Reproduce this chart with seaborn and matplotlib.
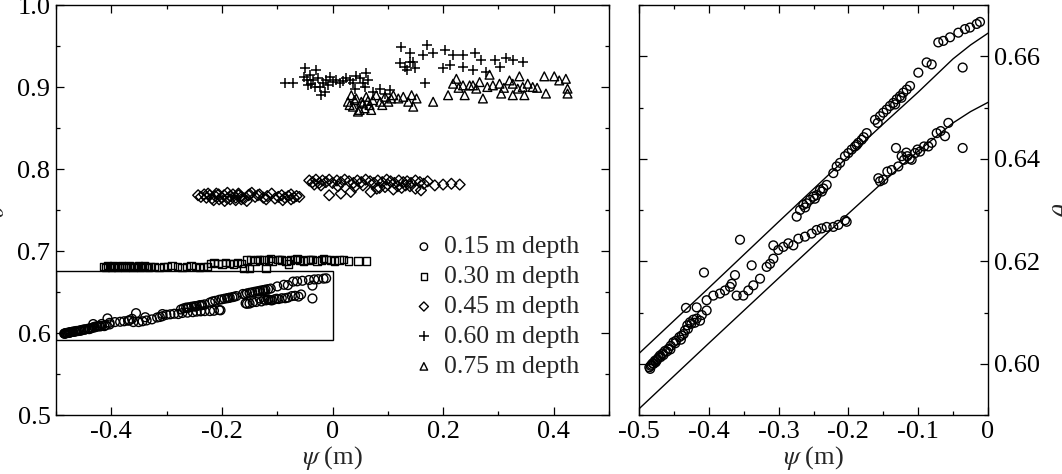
import matplotlib
matplotlib.use("Agg")
import matplotlib.pyplot as plt
from matplotlib.patches import Rectangle
from matplotlib.ticker import MultipleLocator
import seaborn as sns

# 0.15 m depth (same points in both panels)
d15_x = [-0.4852, -0.4833, -0.4804, -0.4771, -0.4737, -0.4699, -0.4661, -0.4628, -0.4580, -0.4546,
         -0.4508, -0.4470, -0.4422, -0.4389, -0.4341, -0.4308, -0.4269, -0.4222, -0.4174, -0.4126,
         -0.4327, -0.4174, -0.4031, -0.4031, -0.4069, -0.3935, -0.3840, -0.3768, -0.3696, -0.3672,
         -0.3625, -0.3553, -0.3386, -0.4820, -0.4760, -0.4720, -0.4650, -0.4550, -0.4400, -0.4300,
         -0.4250, -0.4100, -0.4840, -0.4790, -0.4745, -0.4690, -0.4600, -0.4480, -0.4360, -0.4200,
         -0.2741, -0.2693, -0.2646, -0.2598, -0.2550, -0.2502, -0.2455, -0.2407, -0.2359, -0.2311,
         -0.2216, -0.2168, -0.2120, -0.2049, -0.2001, -0.1953, -0.1905, -0.1858, -0.1810, -0.1738,
         -0.1619, -0.1547, -0.1500, -0.1452, -0.1404, -0.1356, -0.1309, -0.1261, -0.1213, -0.1165,
         -0.1117, -0.0998, -0.0879, -0.0807, -0.0712, -0.0640, -0.0544, -0.0425, -0.0330, -0.0258,
         -0.0162, -0.0115, -0.2620, -0.2480, -0.2380, -0.1880, -0.1780, -0.1580, -0.1330, -0.1240,
         -0.3601, -0.3505, -0.3434, -0.3362, -0.3266, -0.3171, -0.3123, -0.3075, -0.3075, -0.3004,
         -0.2932, -0.2861, -0.2789, -0.2717, -0.2622, -0.2526, -0.2455, -0.2383, -0.2311, -0.2216,
         -0.2144, -0.2049, -0.2025,
         -0.1571, -0.1547, -0.1500, -0.1442, -0.1380, -0.1318, -0.1285, -0.1237, -0.1203, -0.1156,
         -0.1094, -0.1046, -0.0974, -0.0917, -0.0855, -0.0807, -0.0735, -0.0678, -0.0616, -0.0568,
         -0.0363, -0.0363, -0.1170, -0.1120, -0.1010]
d15_y = [0.5993, 0.5996, 0.6001, 0.6006, 0.6009, 0.6016, 0.6020, 0.6025, 0.6029, 0.6035,
         0.6042, 0.6045, 0.6052, 0.6055, 0.6065, 0.6075, 0.6081, 0.6086, 0.6088, 0.6084,
         0.6109, 0.6110, 0.6104, 0.6124, 0.6178, 0.6133, 0.6137, 0.6143, 0.6150, 0.6156,
         0.6173, 0.6242, 0.6192, 0.5998, 0.6003, 0.6012, 0.6017, 0.6028, 0.6047, 0.6068,
         0.6078, 0.6095, 0.5990, 0.6000, 0.6007, 0.6013, 0.6024, 0.6040, 0.6058, 0.6080,
         0.6287, 0.6300, 0.6310, 0.6313, 0.6320, 0.6326, 0.6329, 0.6339, 0.6342, 0.6349,
         0.6372, 0.6385, 0.6392, 0.6405, 0.6411, 0.6418, 0.6424, 0.6431, 0.6437, 0.6450,
         0.6476, 0.6483, 0.6490, 0.6496, 0.6503, 0.6509, 0.6516, 0.6522, 0.6529, 0.6535,
         0.6542, 0.6568, 0.6588, 0.6584, 0.6627, 0.6630, 0.6637, 0.6646, 0.6653, 0.6656,
         0.6663, 0.6667, 0.6305, 0.6322, 0.6336, 0.6427, 0.6442, 0.6470, 0.6506, 0.6519,
         0.6133, 0.6133, 0.6143, 0.6153, 0.6166, 0.6189, 0.6195, 0.6205, 0.6231, 0.6222,
         0.6228, 0.6235, 0.6231, 0.6244, 0.6248, 0.6254, 0.6261, 0.6264, 0.6267, 0.6267,
         0.6271, 0.6280, 0.6277,
         0.6362, 0.6356, 0.6359, 0.6375, 0.6378, 0.6421, 0.6385, 0.6405, 0.6398, 0.6405,
         0.6398, 0.6411, 0.6414, 0.6424, 0.6424, 0.6431, 0.6450, 0.6454, 0.6444, 0.6470,
         0.6421, 0.6578, 0.6412, 0.6400, 0.6418]

# 0.30 m depth
d30_x = [-0.414, -0.410, -0.407, -0.403, -0.400, -0.396, -0.393, -0.389, -0.386, -0.382,
         -0.379, -0.375, -0.372, -0.368, -0.365, -0.361, -0.358, -0.354, -0.351, -0.347,
         -0.344, -0.340, -0.337, -0.333, -0.330, -0.322, -0.314, -0.306, -0.298, -0.290,
         -0.280, -0.272, -0.264, -0.256, -0.248, -0.240, -0.233, -0.226,
         -0.221, -0.214, -0.207, -0.200, -0.193, -0.186, -0.179, -0.172, -0.164,
         -0.155, -0.148, -0.140, -0.132, -0.124, -0.116, -0.108, -0.100, -0.092, -0.084,
         -0.076, -0.068, -0.060, -0.052, -0.044, -0.036, -0.028, -0.020, -0.012, -0.004,
         0.004, 0.012, 0.020, 0.029, 0.046, 0.061,
         -0.160, -0.150, -0.120, -0.080, -0.136, -0.112, -0.096, -0.064, -0.040, -0.016]
d30_y = [0.681, 0.680, 0.682, 0.681, 0.680, 0.682, 0.681, 0.680, 0.681, 0.682,
         0.681, 0.680, 0.681, 0.682, 0.681, 0.680, 0.681, 0.681, 0.682, 0.680,
         0.681, 0.682, 0.681, 0.680, 0.681, 0.681, 0.680, 0.681, 0.681, 0.682,
         0.681, 0.680, 0.681, 0.682, 0.681, 0.680, 0.681, 0.681,
         0.685, 0.686, 0.685, 0.684, 0.686, 0.685, 0.684, 0.686, 0.685,
         0.689, 0.690, 0.688, 0.689, 0.690, 0.689, 0.688, 0.690, 0.689, 0.688,
         0.689, 0.690, 0.689, 0.688, 0.689, 0.690, 0.688, 0.689, 0.690, 0.689,
         0.688, 0.689, 0.690, 0.688, 0.688, 0.688,
         0.679, 0.679, 0.679, 0.684, 0.690, 0.691, 0.690, 0.691, 0.690, 0.691]

# 0.45 m depth
d45_x = [-0.243, -0.238, -0.232, -0.228, -0.222, -0.218, -0.212, -0.206, -0.200, -0.196,
         -0.190, -0.185, -0.180, -0.175, -0.170, -0.165, -0.160, -0.152, -0.146, -0.140,
         -0.132, -0.125, -0.118, -0.110, -0.104, -0.098, -0.092, -0.086, -0.080, -0.075,
         -0.070, -0.065, -0.060,
         -0.215, -0.205, -0.195, -0.185, -0.175, -0.165, -0.155, -0.120, -0.090, -0.075,
         -0.225, -0.210, -0.190, -0.170, -0.150, -0.135,
         -0.042, -0.036, -0.030, -0.024, -0.018, -0.012, -0.006, 0.000, 0.008, 0.015,
         0.022, 0.030, 0.038, 0.045, 0.052, 0.060, 0.068, 0.075, 0.082, 0.090,
         0.098, 0.105, 0.112, 0.120, 0.128, 0.135, 0.142, 0.150, 0.158, 0.165,
         0.172, 0.185, 0.200, 0.215, 0.230,
         -0.006, 0.015, 0.033, 0.069, 0.080, 0.095, 0.110, 0.125, 0.140, 0.150, 0.160,
         0.010, 0.040, 0.085, 0.118, -0.033, -0.021, 0.055, 0.100, 0.132]
d45_y = [0.768, 0.766, 0.769, 0.765, 0.768, 0.764, 0.767, 0.769, 0.765, 0.768,
         0.764, 0.767, 0.769, 0.765, 0.768, 0.766, 0.764, 0.768, 0.771, 0.766,
         0.769, 0.765, 0.767, 0.770, 0.764, 0.766, 0.768, 0.765, 0.767, 0.769,
         0.765, 0.767, 0.766,
         0.762, 0.763, 0.761, 0.763, 0.762, 0.763, 0.761, 0.763, 0.762, 0.763,
         0.770, 0.770, 0.771, 0.770, 0.769, 0.768,
         0.786, 0.784, 0.787, 0.783, 0.786, 0.784, 0.787, 0.783, 0.786, 0.784,
         0.787, 0.785, 0.783, 0.786, 0.784, 0.787, 0.785, 0.783, 0.786, 0.784,
         0.787, 0.785, 0.783, 0.786, 0.784, 0.785, 0.783, 0.786, 0.784, 0.782,
         0.785, 0.780, 0.781, 0.782, 0.781,
         0.768, 0.770, 0.772, 0.772, 0.776, 0.778, 0.775, 0.777, 0.779, 0.776, 0.774,
         0.779, 0.778, 0.777, 0.779, 0.781, 0.780, 0.780, 0.781, 0.780]

# 0.60 m depth
d60_x = [-0.086, -0.071, -0.050, -0.052, -0.047, -0.044, -0.041, -0.035, -0.029, -0.026,
         -0.023, -0.020, -0.014, -0.011, -0.005, 0.001, 0.007, 0.013, 0.025, 0.037,
         0.049, 0.055, 0.061, 0.064, 0.073, 0.086, 0.104,
         0.124, 0.122, 0.131, 0.140, 0.146, 0.149, 0.170, 0.167, 0.182, 0.164,
         0.203, 0.218, 0.236, 0.257, 0.269, 0.293, 0.314, 0.326, 0.344,
         0.200, 0.212, 0.236, 0.254, 0.278, 0.302, 0.140, 0.134,
         -0.038, -0.032, -0.017, -0.008, 0.019, 0.031, 0.043, 0.040, 0.058, 0.095]
d60_y = [0.9045, 0.9045, 0.9228, 0.9126, 0.9085, 0.9024, 0.9146, 0.9085, 0.9207, 0.9106,
         0.9004, 0.8902, 0.8943, 0.9085, 0.9126, 0.9065, 0.9085, 0.9045, 0.9106, 0.9045,
         0.9106, 0.9045, 0.9167, 0.9085, 0.8940, 0.8980, 0.8960,
         0.9492, 0.9289, 0.9248, 0.9411, 0.9309, 0.9228, 0.9512, 0.9045, 0.9411, 0.9390,
         0.9451, 0.9390, 0.9390, 0.9411, 0.9329, 0.9329, 0.9350, 0.9329, 0.9309,
         0.9228, 0.9270, 0.9248, 0.9207, 0.9187, 0.9248, 0.9309, 0.9207,
         0.9040, 0.9000, 0.9050, 0.9020, 0.9070, 0.9080, 0.9140, 0.8980, 0.9000, 0.8920]

# 0.75 m depth
d75_x = [0.028, 0.034, 0.037, 0.043, 0.049, 0.052, 0.058, 0.061, 0.067, 0.073,
         0.079, 0.086, 0.095, 0.101, 0.110, 0.119, 0.128, 0.137, 0.143, 0.146,
         0.152, 0.040, 0.055, 0.182, 0.031, 0.046, 0.064, 0.070, 0.090, 0.106,
         0.209, 0.224, 0.239, 0.248, 0.266, 0.272, 0.284, 0.302, 0.305, 0.320,
         0.326, 0.338, 0.347, 0.353, 0.362, 0.383, 0.386, 0.401, 0.410, 0.422,
         0.425, 0.425, 0.218, 0.236, 0.254, 0.290, 0.326, 0.344,
         0.228, 0.260, 0.280, 0.310, 0.335, 0.370]
d75_y = [0.882, 0.890, 0.876, 0.886, 0.872, 0.882, 0.874, 0.888, 0.878, 0.884,
         0.890, 0.882, 0.888, 0.882, 0.890, 0.886, 0.888, 0.882, 0.890, 0.876,
         0.886, 0.884, 0.880, 0.882, 0.878, 0.870, 0.883, 0.872, 0.878, 0.886,
         0.890, 0.910, 0.890, 0.902, 0.906, 0.886, 0.915, 0.904, 0.892, 0.908,
         0.890, 0.913, 0.890, 0.904, 0.900, 0.913, 0.892, 0.913, 0.908, 0.910,
         0.898, 0.892, 0.904, 0.902, 0.902, 0.902, 0.904, 0.900,
         0.899, 0.898, 0.900, 0.899, 0.898, 0.899]

# model curves in the zoomed panel
curve_x = [-0.5, -0.4, -0.3, -0.2, -0.15, -0.1, -0.05, -0.025, 0.0]
upper_y = [0.6020, 0.6148, 0.6277, 0.6405, 0.6468, 0.6530, 0.6595, 0.6622, 0.6645]
lower_y = [0.5912, 0.6040, 0.6167, 0.6293, 0.6355, 0.6415, 0.6470, 0.6492, 0.6510]

left_xticks = [-0.4, -0.2, 0.0, 0.2, 0.4]
left_xlabels = ["-0.4", "-0.2", "0", "0.2", "0.4"]
left_yticks = [0.5, 0.6, 0.7, 0.8, 0.9, 1.0]
left_ylabels = ["0.5", "0.6", "0.7", "0.8", "0.9", "1.0"]
right_xticks = [-0.5, -0.4, -0.3, -0.2, -0.1, 0.0]
right_xlabels = ["-0.5", "-0.4", "-0.3", "-0.2", "-0.1", "0"]
right_yticks = [0.60, 0.62, 0.64, 0.66]
right_ylabels = ["0.60", "0.62", "0.64", "0.66"]

sns.set_style("ticks")
plt.rcParams["font.family"] = ["Liberation Serif", "DejaVu Serif"]
plt.rcParams["mathtext.fontset"] = "stix"
plt.rcParams["axes.unicode_minus"] = False

FS = 19
open_kw = dict(facecolor="none", edgecolor="black", linewidth=1.0)


def setup_ticks(ax):
    ax.tick_params(which="both", direction="in", top=True, right=True, left=True, bottom=True,
                   width=0.9, colors="black", labelsize=FS, pad=4)
    ax.tick_params(which="major", length=6)
    ax.tick_params(which="minor", length=3)
    for sp in ax.spines.values():
        sp.set_linewidth(1.0)
        sp.set_color("black")


fig = plt.figure(figsize=(10.62, 4.74), dpi=100)
ax1 = fig.add_axes([56 / 1062, 59 / 474, 553 / 1062, 410 / 474])
ax2 = fig.add_axes([639 / 1062, 59 / 474, 349 / 1062, 410 / 474])

# left panel: all depths
sns.scatterplot(x=d15_x, y=d15_y, ax=ax1, marker="o", s=40, label="0.15 m depth", **open_kw)
sns.scatterplot(x=d30_x, y=d30_y, ax=ax1, marker="s", s=28, label="0.30 m depth", **open_kw)
sns.scatterplot(x=d45_x, y=d45_y, ax=ax1, marker="D", s=30, label="0.45 m depth", **open_kw)
sns.scatterplot(x=d60_x, y=d60_y, ax=ax1, marker="+", s=60, color="black", linewidth=1.1,
                label="0.60 m depth")
sns.scatterplot(x=d75_x, y=d75_y, ax=ax1, marker="^", s=40, label="0.75 m depth", **open_kw)
ax1.add_patch(Rectangle((-0.5, 0.5915), 0.5, 0.0835, fill=False, edgecolor="black", linewidth=1.0))

ax1.set_xlim(-0.5, 0.5)
ax1.set_ylim(0.5, 1.0)
ax1.set_xticks(left_xticks)
ax1.set_xticklabels(left_xlabels)
ax1.set_yticks(left_yticks)
ax1.set_yticklabels(left_ylabels)
ax1.xaxis.set_minor_locator(MultipleLocator(0.1))
ax1.yaxis.set_minor_locator(MultipleLocator(0.05))
setup_ticks(ax1)
ax1.set_xlabel(r"$\psi$ (m)", fontsize=FS, labelpad=1)
ax1.set_ylabel(r"$\theta$", fontsize=FS)
ax1.yaxis.set_label_coords(-0.085, 0.5)
ax1.legend(loc="upper left", bbox_to_anchor=(0.642, 0.438), frameon=False, fontsize=18.5,
           handletextpad=0.3, labelspacing=0.27, handlelength=1.0, borderaxespad=0,
           borderpad=0, markerscale=0.85)

# right panel: zoom on 0.15 m depth
sns.scatterplot(x=d15_x, y=d15_y, ax=ax2, marker="o", s=40, legend=False, **open_kw)
sns.lineplot(x=curve_x, y=upper_y, ax=ax2, color="black", linewidth=1.0)
sns.lineplot(x=curve_x, y=lower_y, ax=ax2, color="black", linewidth=1.0)
ax2.set_xlim(-0.5, 0.0)
ax2.set_ylim(0.59, 0.67)
ax2.set_xticks(right_xticks)
ax2.set_xticklabels(right_xlabels)
ax2.set_yticks(right_yticks)
ax2.set_yticklabels(right_ylabels)
ax2.xaxis.set_minor_locator(MultipleLocator(0.05))
ax2.yaxis.set_minor_locator(MultipleLocator(0.01))
setup_ticks(ax2)
ax2.tick_params(labelleft=False, labelright=True)
ax2.set_xlabel(r"$\psi$ (m)", fontsize=FS, labelpad=1)
ax2.yaxis.set_label_position("right")
ax2.set_ylabel(r"$\theta$", fontsize=FS, rotation=90)
ax2.yaxis.set_label_coords(1.19, 0.5)

fig.savefig("out.png", dpi=100)
